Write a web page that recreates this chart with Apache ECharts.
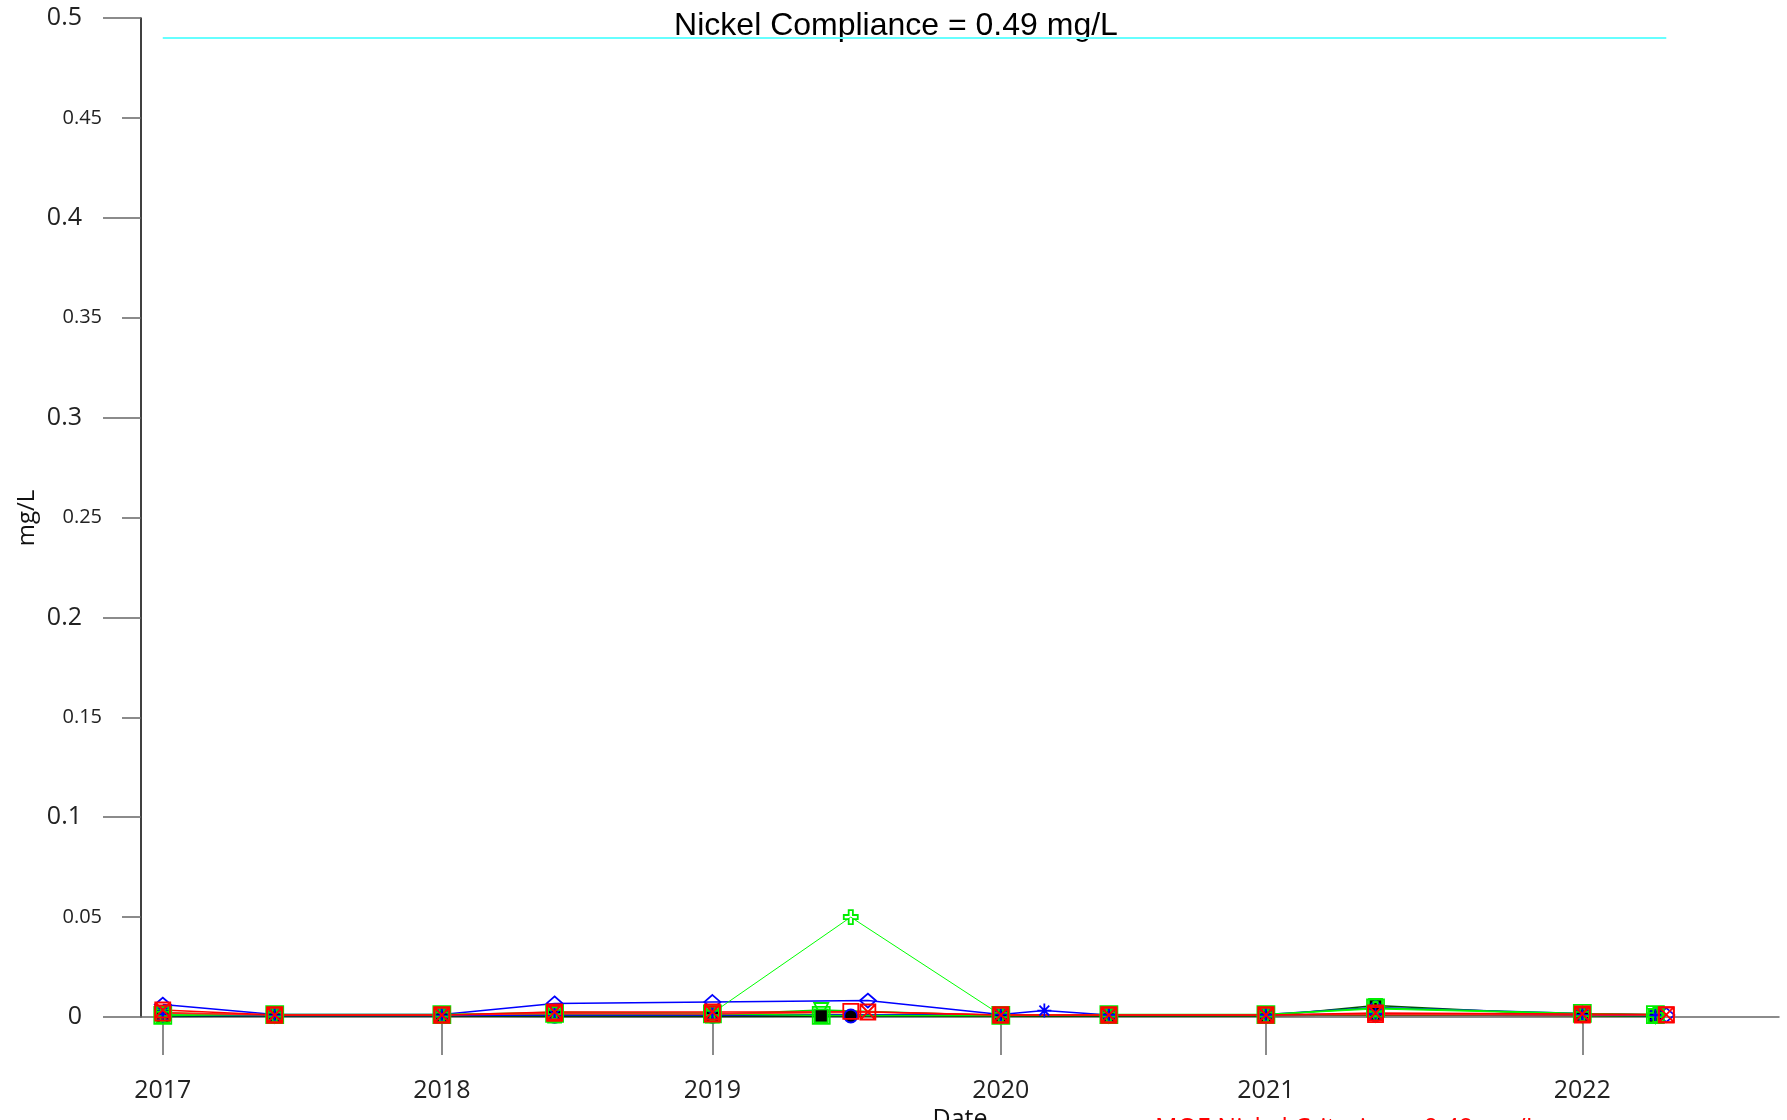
<!DOCTYPE html>
<html>
<head>
<meta charset="utf-8">
<script src="https://cdn.jsdelivr.net/npm/echarts@6/dist/echarts.min.js"></script>
<style>
  html, body { margin: 0; padding: 0; background: #fff; }
  #chart { width: 1787px; height: 1120px; }
</style>
</head>
<body>
<div id="chart"></div>
<script>
// sampling dates (all wells share this list, null = not sampled)
const sampleDates = ['2017-05-15', '2017-10-06', '2018-05-09', '2018-10-01', '2019-04-22', '2019-09-09',
  '2019-10-17', '2019-11-08', '2020-04-27', '2020-06-22', '2020-09-13', '2021-04-03',
  '2021-08-22', '2022-05-15', '2022-08-17', '2022-08-31'];

// x axis ticks sit on sample dates, labelled by year
const tickDates = ['2017-05-15', '2018-05-09', '2019-04-22', '2020-04-27', '2021-04-03', '2022-05-15'];
const tickLabels = ['2017', '2018', '2019', '2020', '2021', '2022'];
const minorTicks = [0.05, 0.15, 0.25, 0.35, 0.45];

const complianceValue = 0.49;
const complianceDates = ['2017-05-15', '2022-08-31'];

// nickel, mg/L
const grayWell   = [0.0003, 0.0004, 0.0004, 0.0004, 0.0003, null, null, null, 0.0004, null, 0.0004, 0.0004, 0.0006, 0.0005, 0.0004, null];
const orangeWell = [0.0022, 0.0008, 0.0008, 0.0020, 0.0018, null, null, null, 0.0008, null, 0.0008, 0.0008, 0.0010, 0.0008, 0.0008, null];
const circleWell = [0.0002, 0.0005, 0.0005, 0.0003, 0.0003, null, 0.0005, null, 0.0005, null, 0.0005, 0.0008, 0.0010, 0.0008, 0.0005, null];
const triWell    = [0.0010, 0.0008, 0.0008, 0.0015, 0.0012, 0.0035, null, null, 0.0008, null, 0.0008, 0.0008, 0.0012, 0.0008, 0.0005, null];
const blackWell  = [0.0005, 0.0005, 0.0005, 0.0005, 0.0005, 0.0006, null, null, 0.0005, null, 0.0005, 0.0005, 0.0058, 0.0008, 0.0005, null];
const starWell   = [0.0008, 0.0008, 0.0008, 0.0010, 0.0010, null, null, null, 0.0012, 0.0032, 0.0010, 0.0010, 0.0015, 0.0010, 0.0008, null];
const diamondWell= [0.0062, 0.0012, 0.0012, 0.0068, 0.0075, null, null, 0.0082, 0.0012, null, 0.0010, 0.0012, 0.0048, 0.0018, null, 0.0010];
const squareWell = [0.0008, 0.0012, 0.0012, 0.0018, 0.0016, 0.0008, null, null, 0.0008, null, 0.0012, 0.0012, 0.0045, 0.0018, 0.0012, null];
const plusWell   = [0.0015, 0.0012, 0.0012, 0.0025, 0.0020, null, 0.0500, null, 0.0010, null, 0.0012, 0.0012, 0.0040, 0.0015, 0.0010, null];
const redSqWell  = [0.0020, 0.0010, 0.0010, 0.0018, 0.0015, null, 0.0028, null, 0.0010, null, 0.0010, 0.0010, 0.0012, 0.0010, null, 0.0010];
const redXWell   = [0.0035, 0.0010, 0.0010, 0.0025, 0.0025, null, null, 0.0025, 0.0010, null, 0.0010, 0.0010, 0.0020, 0.0015, null, 0.0012];

const PLUS = 'path://M3.5,0H6.5V3.5H10V6.5H6.5V10H3.5V6.5H0V3.5H3.5Z';
const XBOX = 'path://M0,0H10V10H0Z M0,0L10,10 M10,0L0,10';
const STAR = 'path://M5,0V10 M0,5H10 M1.5,1.5L8.5,8.5 M8.5,1.5L1.5,8.5';
const TRIDOWN = 'path://M0,0H10L5,9Z';
const NOFILL = 'rgba(0,0,0,0)';

const wells = [
  { values: grayWell,    line: '#808080', symbol: 'none' },
  { values: orangeWell,  line: '#c85a00', symbol: 'none' },
  { values: circleWell,  line: '#000000', symbol: 'circle', size: 13, fill: '#000', stroke: '#0000ff' },
  { values: triWell,     line: '#00dd00', symbol: TRIDOWN, size: 14, fill: NOFILL, stroke: '#00ee00' },
  { values: blackWell,   line: '#005500', symbol: 'rect', size: 13, fill: '#000', stroke: '#00ee00' },
  { values: starWell,    line: '#0000ff', symbol: STAR, size: 14, fill: NOFILL, stroke: '#0000ff' },
  { values: diamondWell, line: '#0000ff', symbol: 'diamond', size: [16, 14], fill: NOFILL, stroke: '#0000ff' },
  { values: squareWell,  line: '#00ee00', symbol: 'rect', size: 17, fill: NOFILL, stroke: '#00ee00' },
  { values: plusWell,    line: '#00ff00', symbol: PLUS, size: 14, fill: NOFILL, stroke: '#00ee00', width: 1 },
  { values: redSqWell,   line: '#ff2020', symbol: 'rect', size: 15, fill: NOFILL, stroke: '#ff0000' },
  { values: redXWell,    line: '#ff0000', symbol: XBOX, size: 15, fill: NOFILL, stroke: '#ff0000' }
];

const toTime = d => echarts.time.parse(d).getTime();

const toPairs = values => sampleDates
  .map((d, i) => [toTime(d), values[i]])
  .filter(p => p[1] !== null);

const tickTimes = tickDates.map(toTime);

const series = wells.map(w => ({
  type: 'line',
  data: toPairs(w.values),
  symbol: w.symbol,
  symbolSize: w.size || 10,
  lineStyle: { color: w.line, width: w.width || 1.5 },
  itemStyle: { color: w.fill || w.line, borderColor: w.stroke || w.line, borderWidth: 1.8 },
  emphasis: { disabled: true }
}));

series.push({
  type: 'line',
  data: complianceDates.map(d => [toTime(d), complianceValue]),
  symbol: 'none',
  lineStyle: { color: '#66ffff', width: 2 }
});

const chart = echarts.init(document.getElementById('chart'));
chart.setOption({
  animation: false,
  grid: { left: 141, right: 8, top: 18, bottom: 103 },
  xAxis: {
    type: 'value',
    min: toTime('2017-04-17'),
    max: toTime('2023-01-23'),
    axisLine: { show: true, onZero: false, lineStyle: { color: '#666', width: 1.5 } },
    axisTick: { show: true, length: 38, customValues: tickTimes, lineStyle: { color: '#666', width: 1.5 } },
    axisLabel: {
      customValues: tickTimes,
      formatter: v => {
        const i = tickTimes.indexOf(v);
        return i >= 0 ? tickLabels[i] : String(new Date(v).getFullYear());
      },
      fontSize: 25, fontFamily: 'Open Sans', color: '#222', margin: 61
    },
    splitLine: { show: false }
  },
  yAxis: [
    {
      type: 'value', min: 0, max: 0.5, interval: 0.1, position: 'left',
      axisLine: { show: true, lineStyle: { color: '#000', width: 1.5 } },
      axisTick: { show: true, length: 38, lineStyle: { color: '#666', width: 1.5 } },
      axisLabel: { fontSize: 25, fontFamily: 'Open Sans', color: '#222', margin: 59 },
      splitLine: { show: false }
    },
    {
      type: 'value', min: 0, max: 0.5, position: 'left',
      axisLine: { show: false },
      axisTick: { show: true, length: 19, customValues: minorTicks, lineStyle: { color: '#666', width: 1.5 } },
      axisLabel: { customValues: minorTicks, fontSize: 20, fontFamily: 'Open Sans', color: '#222', margin: 39 },
      splitLine: { show: false }
    }
  ],
  graphic: [
    {
      type: 'text', x: 896, y: 26,
      style: { text: 'Nickel Compliance = 0.49 mg/L', font: '32px "Liberation Sans"', fill: '#000',
        textAlign: 'center', textVerticalAlign: 'middle' }
    },
    {
      type: 'text', x: 27, y: 518, rotation: Math.PI / 2,
      style: { text: 'mg/L', font: '24px "Open Sans"', fill: '#111', textAlign: 'center', textVerticalAlign: 'middle' }
    },
    {
      type: 'text', x: 960, y: 1107,
      style: { text: 'Date', font: '25px "Open Sans"', fill: '#111', textAlign: 'center', textVerticalAlign: 'top' }
    },
    {
      type: 'text', x: 1155, y: 1116,
      style: { text: 'MOE Nickel Criterion = 0.49 mg/L', font: '25px "Open Sans"', fill: '#ff0000',
        textAlign: 'left', textVerticalAlign: 'top' }
    }
  ],
  series
});
</script>
</body>
</html>
